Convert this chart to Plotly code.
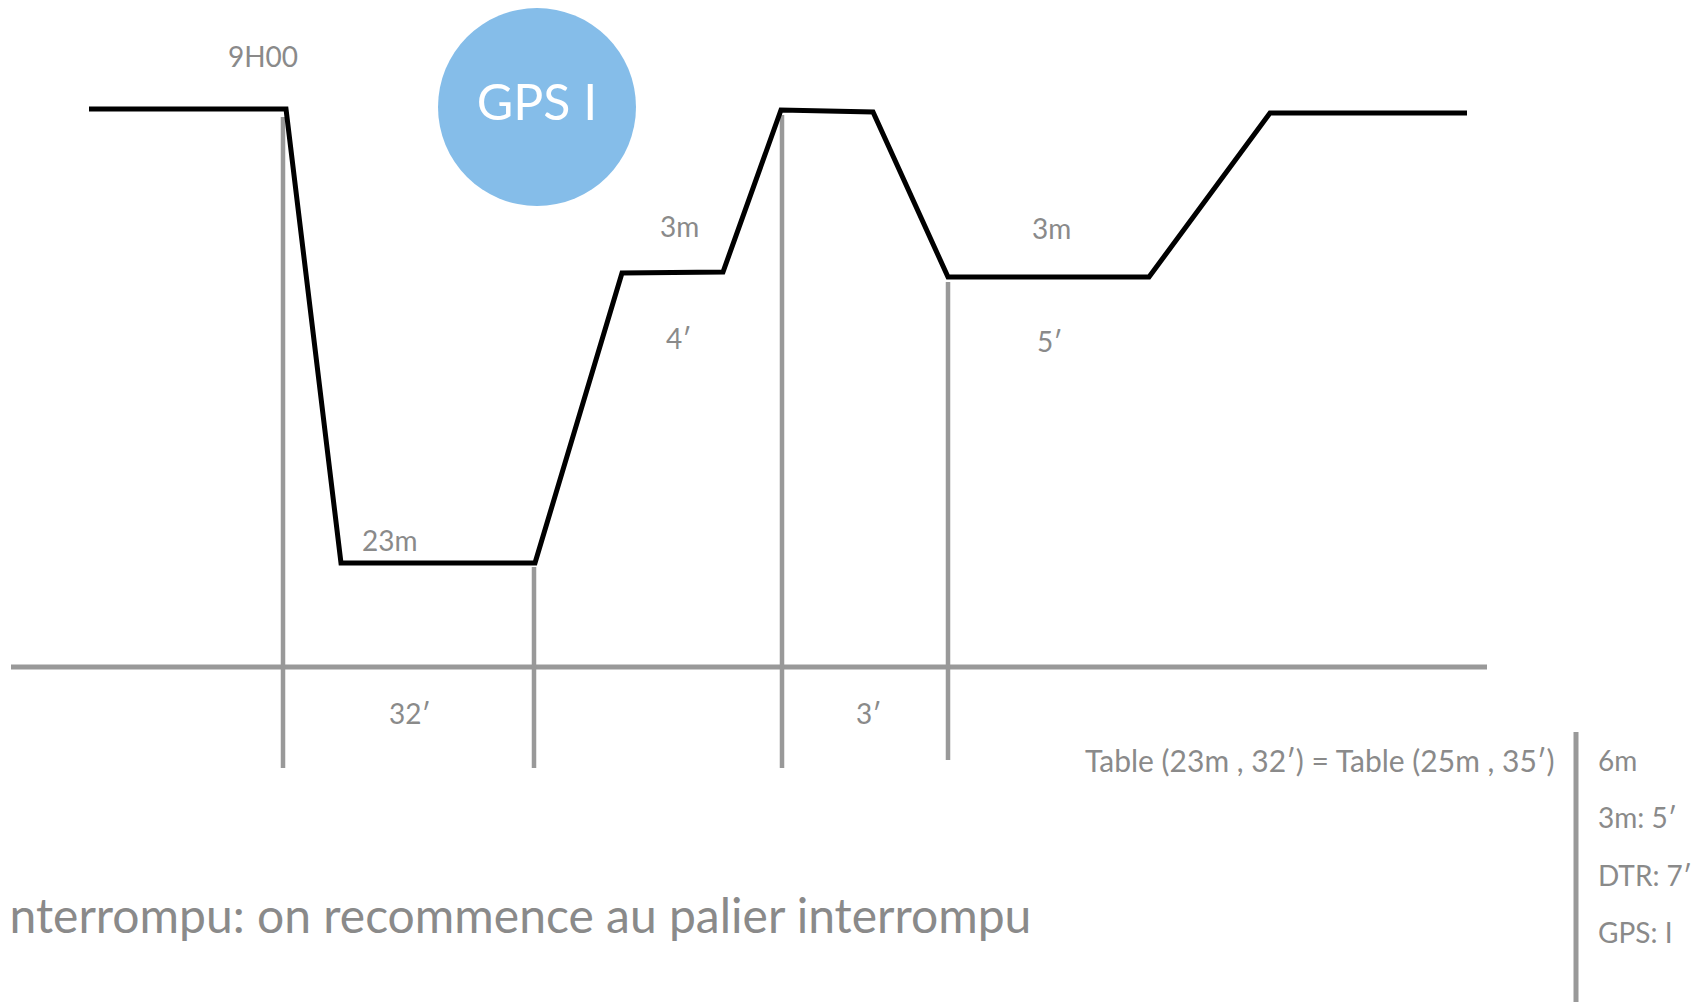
import plotly.graph_objects as go

# Dive profile (diagram units: time along x, depth down along y)
profile_t = [89, 286, 341, 535, 622, 723, 781, 873, 948, 1149, 1270, 1467]
profile_d = [109, 109, 563, 563, 273, 272, 110, 112, 277, 277, 113, 113]

# Time axis
axis_t = [11, 1487]
axis_d = [667, 667]

# Vertical time markers
marker_t = [283, 534, 782, 948]
marker_top = [117, 567, 115, 282]
marker_bottom = [768, 768, 768, 760]

# Right bracket line
bracket_t = [1576, 1576]
bracket_d = [732, 1020]

# GPS bubble
gps_t = [537]
gps_d = [107]
gps_label = "GPS I"

# Labels
label_text = ["9H00", "3m", "4′", "3m", "5′", "23m", "32′", "3′"]
label_t = [263, 679, 678, 1051, 1049, 390, 410, 868]
label_d = [56, 226, 338, 228, 341, 540, 713, 713]

table_text = "Table (23m , 32′) = Table (25m , 35′)"
table_t, table_d = 1557, 760

summary_text = ["6m", "3m: 5′", "DTR: 7′", "GPS: I"]
summary_t = 1596
summary_d = [760, 817, 875, 932]

note_text = "interrompu: on recommence au palier interrompu"
note_t, note_d = 1033, 914

GRAY = "#999999"
TEXT = "#8a8a8a"
FONT = "Lato"
OFF = 8  # page body margin

fig = go.Figure()

fig.add_trace(go.Scatter(x=axis_t, y=axis_d, mode="lines",
                         line=dict(color=GRAY, width=5), hoverinfo="skip"))
for t, a, b in zip(marker_t, marker_top, marker_bottom):
    fig.add_trace(go.Scatter(x=[t, t], y=[a, b], mode="lines",
                             line=dict(color=GRAY, width=4.5), hoverinfo="skip"))
fig.add_trace(go.Scatter(x=bracket_t, y=bracket_d, mode="lines",
                         line=dict(color=GRAY, width=5), hoverinfo="skip"))

fig.add_trace(go.Scatter(x=profile_t, y=profile_d, mode="lines",
                         line=dict(color="black", width=5), hoverinfo="skip"))

fig.add_trace(go.Scatter(x=gps_t, y=gps_d, mode="markers+text",
                         marker=dict(size=198, color="#85bde9", line=dict(width=0)),
                         text=[gps_label], textposition="middle center",
                         textfont=dict(family=FONT, size=50, color="white"),
                         hoverinfo="skip"))

for txt, t, d in zip(label_text, label_t, label_d):
    fig.add_annotation(x=t, y=d, xref="x", yref="y", text=txt, showarrow=False,
                       xanchor="center", yanchor="middle",
                       font=dict(family=FONT, size=28, color=TEXT))

fig.add_annotation(x=table_t, y=table_d, xref="x", yref="y", text=table_text,
                   showarrow=False, xanchor="right", yanchor="middle",
                   font=dict(family=FONT, size=30, color=TEXT))

for txt, d in zip(summary_text, summary_d):
    fig.add_annotation(x=summary_t, y=d, xref="x", yref="y", text=txt,
                       showarrow=False, xanchor="left", yanchor="middle",
                       font=dict(family=FONT, size=28, color=TEXT))

fig.add_annotation(x=note_t, y=note_d, xref="x", yref="y", text=note_text,
                   showarrow=False, xanchor="right", yanchor="middle",
                   font=dict(family=FONT, size=48, color=TEXT))

fig.update_layout(
    width=1704, height=1002,
    margin=dict(l=0, r=0, t=0, b=0),
    paper_bgcolor="white", plot_bgcolor="white",
    showlegend=False,
    xaxis=dict(range=[OFF, 1704 + OFF], visible=False, fixedrange=True),
    yaxis=dict(range=[1002 + OFF, OFF], visible=False, fixedrange=True),
)

fig.write_html("out.html")
